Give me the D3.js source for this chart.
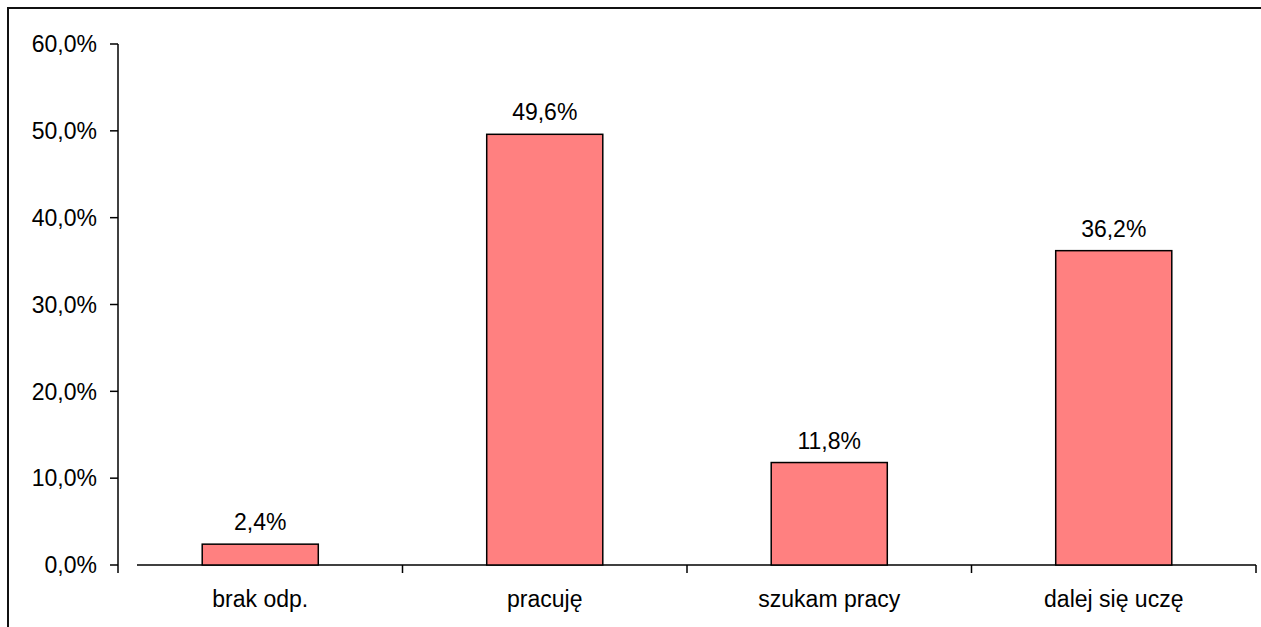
<!DOCTYPE html>
<html>
<head>
<meta charset="utf-8">
<script src="https://cdn.jsdelivr.net/npm/d3@7/dist/d3.min.js"></script>
<style>
html, body { margin: 0; padding: 0; background: #fff; }
svg { display: block; }
text { font-family: "Liberation Sans", Arial, sans-serif; fill: #000; }
</style>
</head>
<body>
<svg id="chart" width="1261" height="627"></svg>
<script>
const categories = ["brak odp.", "pracuję", "szukam pracy", "dalej się uczę"];
const values = [2.4, 49.6, 11.8, 36.2];
const yTicks = [0, 10, 20, 30, 40, 50, 60];

(function () {
const svg = d3.select("#chart");
const W = 1261, H = 627;
const mLeft = 118, mRight = 1256, mTop = 44, mBottom = 565;
const FS = 23;

const locale = d3.formatLocale({decimal: ",", thousands: " ", grouping: [3], currency: ["", " zł"]});
const fmt = locale.format(".1f");

// outer border (left and top)
svg.append("path")
  .attr("d", `M8,${H + 5} L8,8 L${W + 5},8`)
  .attr("fill", "none").attr("stroke", "#111").attr("stroke-width", 2);

const x = d3.scaleBand().domain(categories).range([mLeft, mRight])
  .paddingInner(0.592).paddingOuter(0.296);
const y = d3.scaleLinear().domain([0, 60]).range([mBottom, mTop]);

// y axis
const gy = svg.append("g");
gy.append("line").attr("x1", mLeft).attr("x2", mLeft).attr("y1", y(60)).attr("y2", mBottom + 8)
  .attr("stroke", "#000").attr("stroke-width", 1.5);
gy.selectAll(".yt").data(yTicks).enter().append("line")
  .attr("x1", mLeft - 8).attr("x2", mLeft).attr("y1", d => y(d)).attr("y2", d => y(d))
  .attr("stroke", "#000").attr("stroke-width", 1.5);
gy.selectAll(".yl").data(yTicks).enter().append("text")
  .attr("x", mLeft - 21).attr("y", d => y(d)).attr("dy", "0.36em")
  .attr("text-anchor", "end").attr("font-size", FS)
  .text(d => fmt(d) + "%");

// x axis
const gx = svg.append("g");
gx.append("line").attr("x1", mLeft + 19).attr("x2", mRight).attr("y1", mBottom).attr("y2", mBottom)
  .attr("stroke", "#000").attr("stroke-width", 1.5);
const step = x.step();
gx.selectAll(".xt").data(categories).enter().append("line")
  .attr("x1", (d, i) => mLeft + step * (i + 1)).attr("x2", (d, i) => mLeft + step * (i + 1))
  .attr("y1", mBottom).attr("y2", mBottom + 8)
  .attr("stroke", "#000").attr("stroke-width", 1.5);
gx.selectAll(".xl").data(categories).enter().append("text")
  .attr("x", d => x(d) + x.bandwidth() / 2).attr("y", 606.5)
  .attr("text-anchor", "middle").attr("font-size", FS)
  .text(d => d);

// bars
svg.selectAll(".bar").data(values).enter().append("rect")
  .attr("x", (d, i) => x(categories[i]))
  .attr("width", x.bandwidth())
  .attr("y", d => y(d))
  .attr("height", d => y(0) - y(d))
  .attr("fill", "#FF8080").attr("stroke", "#000").attr("stroke-width", 1.5);

// value labels
svg.selectAll(".vl").data(values).enter().append("text")
  .attr("x", (d, i) => x(categories[i]) + x.bandwidth() / 2)
  .attr("y", d => y(d) - 14)
  .attr("text-anchor", "middle").attr("font-size", FS)
  .text(d => fmt(d) + "%");
})();
</script>
</body>
</html>
